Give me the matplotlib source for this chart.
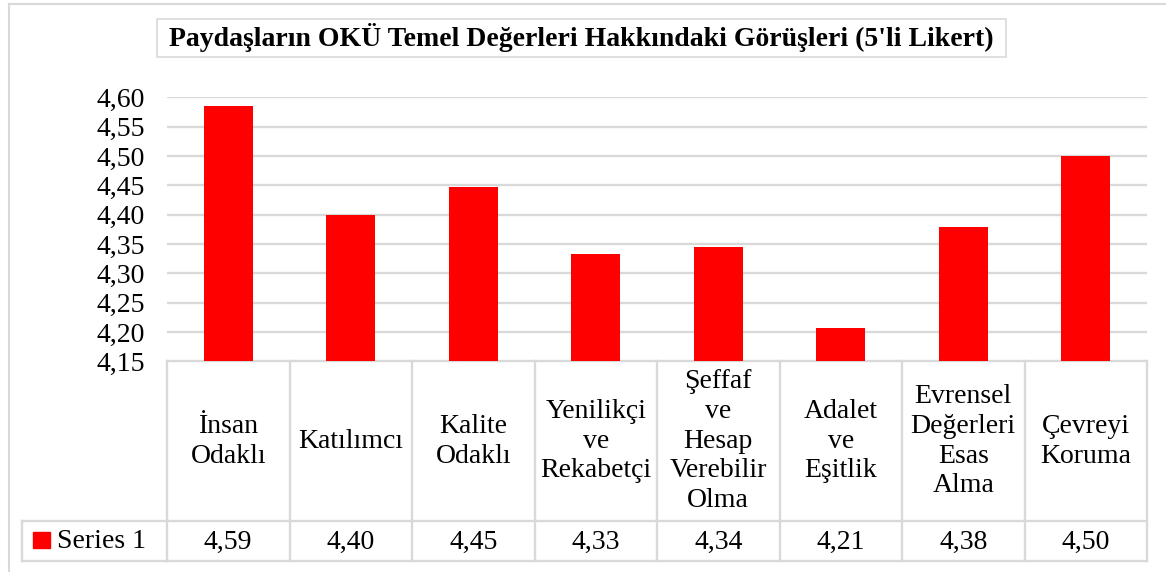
import numpy as np
import matplotlib
matplotlib.use("Agg")
import matplotlib.pyplot as plt
from matplotlib.transforms import blended_transform_factory
from matplotlib.patches import Rectangle

plt.rcParams['font.family'] = ['Liberation Serif', 'DejaVu Serif']

categories = ["İnsan\nOdaklı", "Katılımcı", "Kalite\nOdaklı", "Yenilikçi\nve\nRekabetçi",
              "Şeffaf\nve\nHesap\nVerebilir\nOlma", "Adalet\nve\nEşitlik",
              "Evrensel\nDeğerleri\nEsas\nAlma", "Çevreyi\nKoruma"]
values = [4.586, 4.399, 4.447, 4.333, 4.344, 4.207, 4.379, 4.500]
series_name = "Series 1"
y_ticks = [4.15, 4.20, 4.25, 4.30, 4.35, 4.40, 4.45, 4.50, 4.55, 4.60]
title = "Paydaşların OKÜ Temel Değerleri Hakkındaki Görüşleri (5'li Likert)"

W, H = 1166, 572
grey = "#d9d9d9"
fs = 20

fig = plt.figure(figsize=(W / 100, H / 100), dpi=100)

# overlay in pixel coords (y down) for frame, title box and table
ov = fig.add_axes([0, 0, 1, 1])
ov.set_xlim(0, W)
ov.set_ylim(H, 0)
ov.axis("off")

# plot area
x0, x1, ytop, ybot = 167, 1147, 97.3, 361.3
ax = fig.add_axes([x0 / W, (H - ybot) / H, (x1 - x0) / W, (ybot - ytop) / H])
x = np.arange(len(values))
ax.bar(x, values, width=0.4, color="#ff0000", zorder=3)
ax.set_xlim(-0.5, len(values) - 0.5)
ax.set_ylim(y_ticks[0], y_ticks[-1])
ax.set_yticks(y_ticks)
ax.set_yticklabels([f"{t:.2f}".replace(".", ",") for t in y_ticks], fontsize=fs)
ax.tick_params(axis="y", length=0, pad=16)
ax.set_xticks([])
for s in ax.spines.values():
    s.set_visible(False)
for t in y_ticks[1:]:
    ax.axhline(t, color=grey, lw=1.7, zorder=1)
ax.patch.set_alpha(0)

# outer chart frame (left and top edges visible)
ov.plot([9, 9], [4, H], color=grey, lw=1.5)
ov.plot([9, W], [4, 4], color=grey, lw=1.5)

# title in a box
ov.add_patch(Rectangle((157, 19), 849, 38, fill=False, edgecolor=grey, lw=1.2))
ov.text(581.5, 38, title, fontsize=20, fontweight="bold", ha="center", va="center")

# data table under the plot
tr = blended_transform_factory(ax.transData, ov.transData)
t_top, t_mid, t_bot = 361.3, 521, 561
edges = np.arange(len(values) + 1) - 0.5
for e in edges:
    ov.plot([e, e], [t_top, t_bot], color=grey, lw=1.7, transform=tr, clip_on=False)
ov.plot([edges[0], edges[-1]], [t_top, t_top], color=grey, lw=1.7, transform=tr, clip_on=False)
ov.plot([22, 22], [t_mid, t_bot], color=grey, lw=1.7)
ov.plot([22, x0], [t_mid, t_mid], color=grey, lw=1.7)
ov.plot([22, x0], [t_bot, t_bot], color=grey, lw=1.7)
ov.plot([edges[0], edges[-1]], [t_mid, t_mid], color=grey, lw=1.7, transform=tr, clip_on=False)
ov.plot([edges[0], edges[-1]], [t_bot, t_bot], color=grey, lw=1.7, transform=tr, clip_on=False)

for i, (c, v) in enumerate(zip(categories, values)):
    ov.text(i, (t_top + t_mid) / 2, c, ha="center", va="center", fontsize=fs,
            linespacing=1.25, transform=tr)
    ov.text(i, (t_mid + t_bot) / 2 + 1, f"{v:.2f}".replace(".", ","), ha="center",
            va="center", fontsize=fs, transform=tr)

ov.add_patch(Rectangle((33, 532), 17, 16, color="#ff0000"))
ov.text(57, (t_mid + t_bot) / 2, series_name, ha="left", va="center", fontsize=fs)

fig.savefig("out.png", dpi=100)
